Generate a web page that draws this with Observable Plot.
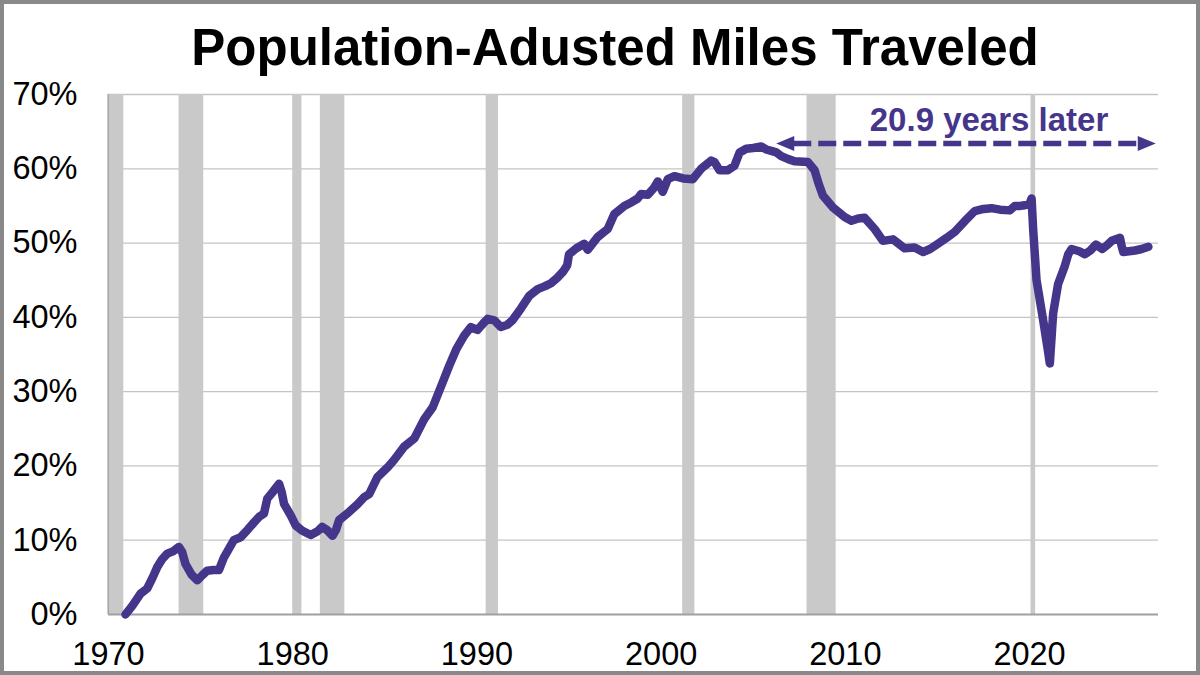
<!DOCTYPE html>
<html>
<head>
<meta charset="utf-8">
<script src="https://cdn.jsdelivr.net/npm/d3@7"></script>
<script src="https://cdn.jsdelivr.net/npm/@observablehq/plot@0.6"></script>
<style>
  html, body { margin: 0; padding: 0; background: #fff; }
  #page { position: relative; width: 1200px; height: 675px; overflow: hidden; background: #fff;
          font-family: "Liberation Sans", Arial, sans-serif; }
  #title { position: absolute; left: 0; top: 18px; width: 1230px; text-align: center;
           font-weight: bold; font-size: 51px; line-height: 60px; color: #000; white-space: nowrap; }
  #chart { position: absolute; left: 0; top: 80px; }
  #border { position: absolute; left: 0; top: 0; width: 1200px; height: 675px; box-sizing: border-box;
            border: 4px solid #898989; pointer-events: none; }
</style>
</head>
<body>
<div id="page">
  <div id="title">Population-Adusted Miles Traveled</div>
  <div id="chart"></div>
  <div id="border"></div>
</div>
<script>
// ---- Data ----
const titleText = "Population-Adusted Miles Traveled";
const annotationText = "20.9 years later";

// decimal year of each observation
const dates = [
  1970.92, 1971.3, 1971.74, 1972.1, 1972.4, 1972.65, 1972.9, 1973.19, 1973.5, 1973.82,
  1974.0, 1974.18, 1974.5, 1974.82, 1975.1, 1975.36, 1975.7, 1976.0, 1976.27, 1976.55,
  1976.8, 1977.17, 1977.55, 1977.9, 1978.2, 1978.44, 1978.62, 1978.95, 1979.26, 1979.4,
  1979.53, 1979.9, 1980.16, 1980.5, 1980.98, 1981.35, 1981.6, 1981.85, 1982.16, 1982.35,
  1982.52, 1983.06, 1983.5, 1983.88, 1984.15, 1984.6, 1985.15, 1985.5, 1986.05, 1986.6,
  1987.14, 1987.6, 1988.1, 1988.5, 1988.9, 1989.3, 1989.67, 1990.03, 1990.35, 1990.58,
  1990.94, 1991.3, 1991.65, 1991.93, 1992.39, 1992.84, 1993.3, 1993.7, 1994.02, 1994.35,
  1994.66, 1994.9, 1995.0, 1995.4, 1995.83, 1996.01, 1996.55, 1997.1, 1997.46, 1998.0,
  1998.4, 1998.73, 1998.91, 1999.27, 1999.6, 1999.82, 2000.09, 2000.36, 2000.72, 2001.2,
  2001.72, 2002.17, 2002.72, 2002.9, 2003.17, 2003.62, 2003.98, 2004.26, 2004.62, 2005.0,
  2005.43, 2005.7, 2005.98, 2006.25, 2006.52, 2006.9, 2007.24, 2007.97, 2008.33, 2008.55,
  2008.78, 2009.33, 2009.96, 2010.33, 2010.7, 2011.05, 2011.59, 2012.04, 2012.59, 2013.22,
  2013.76, 2014.22, 2014.6, 2015.03, 2015.5, 2015.94, 2016.5, 2017.02, 2017.5, 2017.93,
  2018.4, 2018.93, 2019.2, 2019.5, 2019.74, 2020.0, 2020.11, 2020.2, 2020.38, 2020.74,
  2021.0, 2021.1, 2021.2, 2021.28, 2021.55, 2021.9, 2022.1, 2022.28, 2022.7, 2023.0,
  2023.3, 2023.6, 2023.95, 2024.2, 2024.46, 2024.91, 2025.0, 2025.09, 2025.4, 2025.72,
  2026.09, 2026.45
];
// percent change in population-adjusted miles traveled
const pctValues = [
  0.0, 1.2, 2.8, 3.5, 5.0, 6.4, 7.4, 8.2, 8.5, 9.1,
  8.4, 6.8, 5.4, 4.6, 5.3, 5.9, 6.0, 6.0, 7.7, 8.9,
  10.0, 10.4, 11.4, 12.4, 13.2, 13.6, 15.6, 16.6, 17.6, 16.5,
  14.9, 13.3, 12.0, 11.3, 10.7, 11.2, 11.8, 11.4, 10.6, 11.4,
  12.7, 13.8, 14.8, 15.8, 16.2, 18.5, 19.8, 20.8, 22.6, 23.7,
  26.3, 27.9, 31.0, 33.5, 35.8, 37.5, 38.7, 38.3, 39.2, 39.8,
  39.6, 38.7, 39.0, 39.6, 41.2, 42.9, 43.8, 44.2, 44.6, 45.3,
  46.1, 47.0, 48.5, 49.3, 49.9, 49.1, 50.8, 51.9, 53.9, 55.0,
  55.5, 56.0, 56.6, 56.5, 57.4, 58.3, 56.9, 58.6, 59.0, 58.7,
  58.6, 60.0, 61.1, 60.9, 59.8, 59.8, 60.4, 62.2, 62.7, 62.8,
  63.0, 62.6, 62.4, 62.2, 61.7, 61.3, 61.0, 60.9, 59.8, 58.0,
  56.4, 54.8, 53.5, 53.0, 53.3, 53.4, 51.9, 50.3, 50.5, 49.3,
  49.4, 48.8, 49.2, 49.9, 50.7, 51.5, 53.0, 54.3, 54.6, 54.7,
  54.5, 54.4, 55.0, 55.0, 55.1, 55.3, 56.0, 51.7, 45.0, 39.6,
  35.5, 33.8, 37.5, 40.5, 44.5, 46.8, 48.5, 49.2, 48.9, 48.5,
  49.0, 49.8, 49.2, 49.7, 50.3, 50.7, 49.6, 48.8, 48.9, 49.0,
  49.2, 49.5
];

// recession periods (decimal years)
const recessionStart = [1969.95, 1973.83, 1980.0, 1981.5, 1990.5, 2001.17, 2007.92, 2020.08];
const recessionEnd   = [1970.83, 1975.17, 1980.5, 1982.83, 1991.17, 2001.83, 2009.5, 2020.33];

// axis ticks
const xTicks = [1970, 1980, 1990, 2000, 2010, 2020];
const yTicks = [0, 10, 20, 30, 40, 50, 60, 70];

// annotation (data units)
const arrowFrom = 2006.25, arrowTo = 2026.85, arrowLevel = 63.4;
const annotationX = 2017.8, annotationY = 66.5;

// ---- Build ----
const series = dates.map((d, i) => ({date: d, pct: pctValues[i]}));
const recessions = recessionStart.map((s, i) => ({start: s, end: recessionEnd[i]}));

const purple = "#45368b";
const font = "'Liberation Sans', Arial, sans-serif";

const leftHead = {draw(ctx, size) { const r = Math.sqrt(size / Math.PI);
  ctx.moveTo(0, 0); ctx.lineTo(2.4 * r, -r); ctx.lineTo(2.4 * r, r); ctx.closePath(); }};
const rightHead = {draw(ctx, size) { const r = Math.sqrt(size / Math.PI);
  ctx.moveTo(0, 0); ctx.lineTo(-2.4 * r, -r); ctx.lineTo(-2.4 * r, r); ctx.closePath(); }};

const chart = Plot.plot({
  width: 1200,
  height: 595,
  marginTop: 14,
  marginBottom: 61,
  marginLeft: 108,
  marginRight: 42,
  style: {fontFamily: font, fontSize: "32.5px", color: "#000", background: "transparent", overflow: "visible"},
  x: {domain: [1970, 2027], ticks: xTicks, tickFormat: d => String(d), tickSize: 0, tickPadding: 27, label: null},
  y: {domain: [0, 70], ticks: yTicks, tickFormat: d => d + "%", tickSize: 0, tickPadding: 31, label: null},
  marks: [
    Plot.ruleY(yTicks.filter(v => v > 0), {stroke: "#c4c4c4", strokeWidth: 1.3}),
    Plot.rect(recessions, {x1: "start", x2: "end", y1: 0, y2: 70, fill: "#c9c9c9"}),
    Plot.ruleY([0], {stroke: "#a0a0a0", strokeWidth: 2}),
    Plot.ruleX([1970], {stroke: "#a8a8a8", strokeWidth: 1.2}),
    Plot.line(series, {x: "date", y: "pct", stroke: purple, strokeWidth: 8.5,
      strokeLinecap: "round", strokeLinejoin: "round"}),
    Plot.ruleY([arrowLevel], {x1: arrowFrom + 0.95, x2: arrowTo - 0.95, stroke: purple,
      strokeWidth: 5.5, strokeDasharray: "18,7"}),
    Plot.dot([arrowFrom], {x: d => d, y: arrowLevel, r: 7.5, symbol: leftHead, fill: purple, stroke: null}),
    Plot.dot([arrowTo], {x: d => d, y: arrowLevel, r: 7.5, symbol: rightHead, fill: purple, stroke: null}),
    Plot.text([annotationText], {x: annotationX, y: annotationY, text: d => d, fill: purple,
      fontSize: 33, fontWeight: "bold", fontFamily: font})
  ]
});
document.getElementById("chart").appendChild(chart);
document.getElementById("title").textContent = titleText;
</script>
</body>
</html>
